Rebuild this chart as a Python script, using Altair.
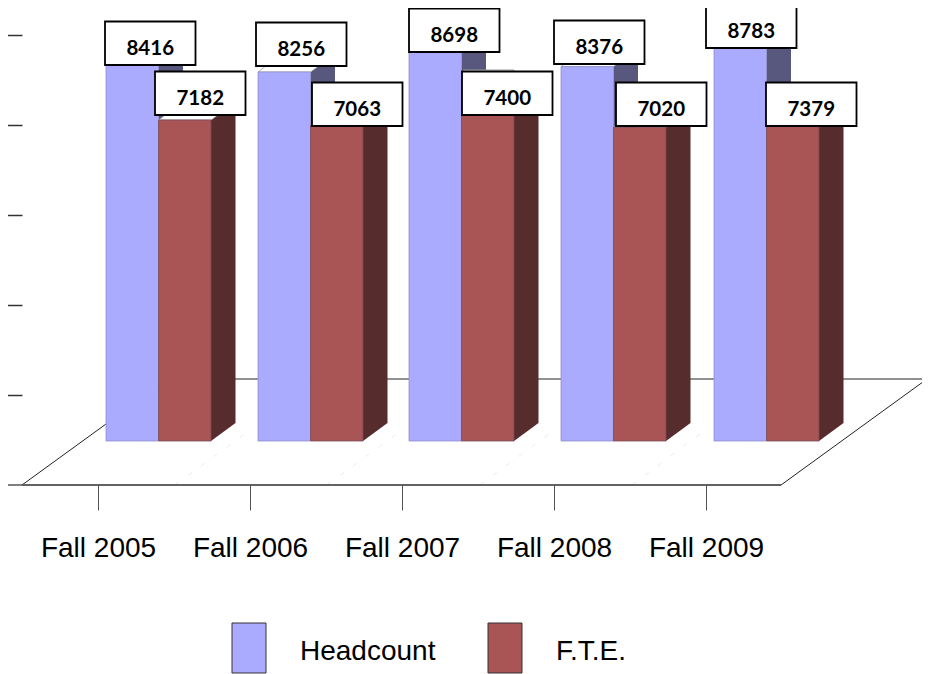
import altair as alt
import pandas as pd

# ---- values ----
CATEGORIES = ["Fall 2005", "Fall 2006", "Fall 2007", "Fall 2008", "Fall 2009"]
HEADCOUNT = [8416, 8256, 8698, 8376, 8783]
FTE = [7182, 7063, 7400, 7020, 7379]
SERIES = ["Headcount", "F.T.E."]
Y_TICKS = [2000, 4000, 6000, 8000, 10000]

# ---- layout (page pixels) ----
W, H = 914, 666
GROUP_X = [106, 258, 409, 561, 714]
BAR_W = 52.5
DX, DY = 24.5, 18
BASE_Y = 441
PX_PER_UNIT = 0.0447
HEAD_BOX = [(105, 65), (256, 66), (409, 52), (554, 64), (706, 48)]
FTE_BOX = [(155, 115), (312, 126), (462, 115), (616, 126), (766, 126)]
BOX_W, BOX_H = 90.5, 43.5
FONT = "Liberation Sans"
HEAD_COL, HEAD_SIDE = "#AAAAFF", "#58587F"
FTE_COL, FTE_SIDE = "#AA5555", "#562C2C"

XS = alt.Scale(domain=[8, 8 + W], range=[0, W], nice=False, zero=False)
PY = alt.Scale(domain=[8 + H, 8], range=[H, 0], nice=False, zero=False)
VS = alt.Scale(domain=[-(8 + H - BASE_Y) / PX_PER_UNIT, (BASE_Y - 8) / PX_PER_UNIT],
               range=[H, 0], nice=False, zero=False)
lift = DY / PX_PER_UNIT


def X(f):
    return alt.X(f, type="quantitative", scale=XS, axis=None)


def Y(f, s=VS):
    return alt.Y(f, type="quantitative", scale=s, axis=None)


def faces(values, offset):
    front, side, top = [], [], []
    for i, v in enumerate(values):
        x0 = GROUP_X[i] + offset
        front.append(dict(x=x0, x2=x0 + BAR_W, y=v, y2=0))
        x1 = x0 + BAR_W
        side.append(dict(g=i, x=x1, y=v, y2=0))
        side.append(dict(g=i, x=x1 + DX, y=v + lift, y2=lift))
        for xx, a, b in [(x0, v, v), (x0 + DX, v + lift, v), (x1, v + lift, v), (x1 + DX, v + lift, v + lift)]:
            top.append(dict(g=i, x=xx, y=a, y2=b))
    return pd.DataFrame(front), pd.DataFrame(side), pd.DataFrame(top)


def bar_layers(values, offset, col, sidecol, edge):
    front, side, top = faces(values, offset)
    enc_a = dict(x=X("x"), y=Y("y"), y2=alt.Y2("y2"), detail="g:N")
    return [
        alt.Chart(side).mark_area(color=sidecol, orient="vertical").encode(**enc_a),
        alt.Chart(top).mark_area(color="white", orient="vertical", stroke="#999999", strokeWidth=0.7).encode(**enc_a),
        alt.Chart(front).mark_rect(color=col, stroke=edge, strokeWidth=0.8).encode(
            x=X("x"), x2=alt.X2("x2"), y=Y("y"), y2=alt.Y2("y2")),
    ]


# floor outline and faint floor grid
floor_back = pd.DataFrame(dict(o=range(5),
    x=[22, 781, 927, 168, 22], y=[485, 485, 379, 379, 485]))
front_line = pd.DataFrame(dict(x=[5], x2=[781], y=[485]))
grid = pd.DataFrame(dict(x=[175, 327, 480, 632], x2=[253, 405, 557, 708],
                         y=[485, 485, 485, 485], y2=[428, 428, 428, 428]))

floor = alt.Chart(floor_back).mark_line(color="#222222", strokeWidth=1).encode(
    x=X("x"), y=Y("y", PY), order="o:Q")
front = alt.Chart(front_line).mark_rule(color="#555555", strokeWidth=1.5).encode(
    x=X("x"), x2=alt.X2("x2"), y=Y("y", PY))
grid_l = alt.Chart(grid).mark_rule(color="#E6E6E6", strokeWidth=0.8, strokeDash=[5, 11]).encode(
    x=X("x"), x2=alt.X2("x2"), y=Y("y", PY), y2=alt.Y2("y2"))

# real axes
x_axis = alt.Chart(pd.DataFrame(dict(c=CATEGORIES))).mark_point(opacity=0).encode(
    x=alt.X("c:O", title=None,
            scale=alt.Scale(type="point", domain=CATEGORIES, range=[90, 698], padding=0),
            axis=alt.Axis(domain=False, labelAngle=0, tickSize=25, tickColor="#555555", tickWidth=1,
                          offset=-(8 + H - 485), labelFont=FONT, labelFontSize=28, labelColor="#000000",
                          labelPadding=24, labelOverlap=False, labelFlush=False, grid=False)))
y_axis = alt.Chart(pd.DataFrame(dict(v=Y_TICKS))).mark_point(opacity=0).encode(
    y=alt.Y("v:Q", title=None,
            scale=alt.Scale(domain=[0, 10000], range=[477, 27], nice=False, zero=False),
            axis=alt.Axis(domain=False, labels=False, values=Y_TICKS, tickSize=17, tickWidth=1.5,
                          tickColor="#333333", offset=-14, grid=False)))

# data label boxes
rows = []
for v, (bx, by), in zip(HEADCOUNT + FTE, HEAD_BOX + FTE_BOX):
    rows.append(dict(x=bx, x2=bx + BOX_W, y=by, y2=by - BOX_H, cx=bx + BOX_W / 2, t=str(v)))
boxes = pd.DataFrame(rows)
stray = alt.Chart(pd.DataFrame(dict(x=[463], x2=[514], y=[74], y2=[70]))).mark_rect(
    color="white", stroke="#999999", strokeWidth=1).encode(
    x=X("x"), x2=alt.X2("x2"), y=Y("y", PY), y2=alt.Y2("y2"))
box_l = alt.Chart(boxes).mark_rect(color="white", stroke="#000000", strokeWidth=1.8).encode(
    x=X("x"), x2=alt.X2("x2"), y=Y("y", PY), y2=alt.Y2("y2"))
box_t = alt.Chart(boxes).mark_text(font="Lato", fontWeight="bold", fontSize=20.5, color="#000000",
                                   baseline="alphabetic", dy=-10).encode(
    x=X("cx"), y=Y("y", PY), text="t:N")

# legend
leg = pd.DataFrame(dict(s=SERIES, x=[232, 488], x2=[266, 522], y=[673, 673], y2=[623, 623],
                        tx=[300, 556], ty=[660, 660]))
leg_r = alt.Chart(leg).mark_rect(stroke="#333333", strokeWidth=1).encode(
    x=X("x"), x2=alt.X2("x2"), y=Y("y", PY), y2=alt.Y2("y2"),
    color=alt.Color("s:N", scale=alt.Scale(domain=SERIES, range=[HEAD_COL, FTE_COL]), legend=None))
leg_t = alt.Chart(leg).mark_text(font=FONT, fontSize=28, align="left", baseline="alphabetic", color="#000000").encode(
    x=X("tx"), y=Y("ty", PY), text="s:N")

layers = [grid_l, floor, front, x_axis, y_axis]
layers += bar_layers(HEADCOUNT, 0, HEAD_COL, HEAD_SIDE, "#9090C8")
layers += bar_layers(FTE, BAR_W, FTE_COL, FTE_SIDE, "#7A4A55")
layers += [stray, box_l, box_t, leg_r, leg_t]

chart = (alt.layer(*layers)
         .resolve_scale(x="independent", y="independent", color="independent")
         .properties(width=W, height=H, padding=0, autosize=alt.AutoSizeParams(type="none"),
                     background="white")
         .configure_view(stroke=None))

chart.save("out.html", embed_options={"renderer": "svg", "actions": False})
